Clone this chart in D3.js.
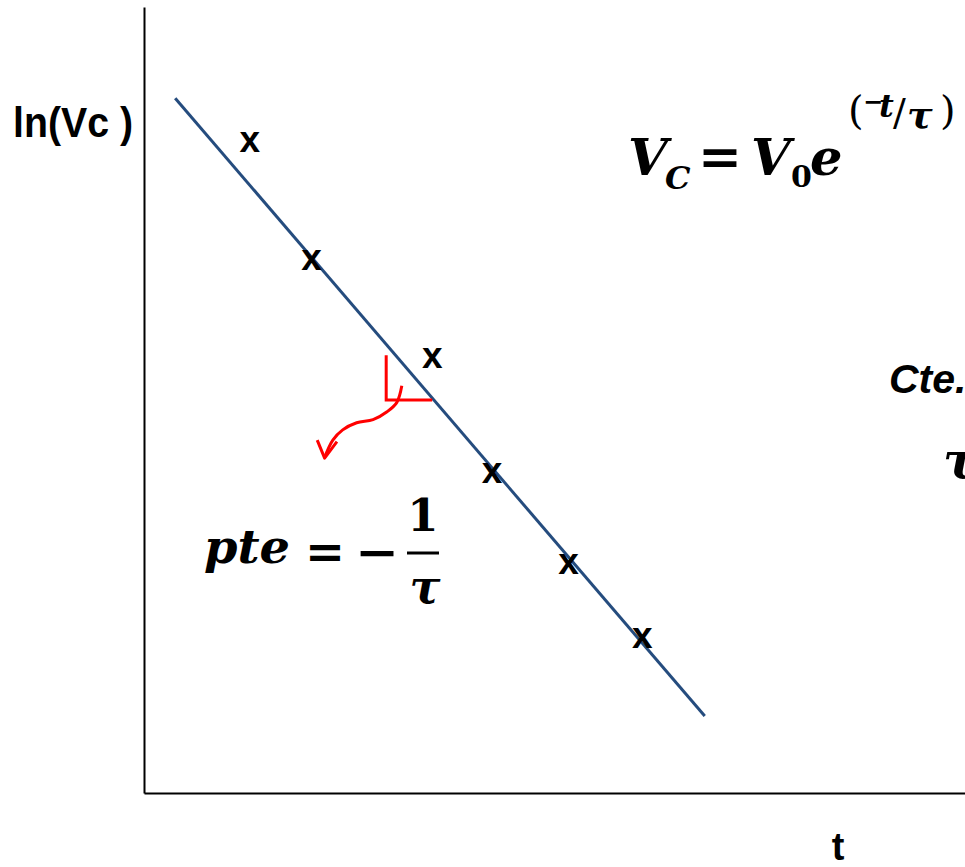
<!DOCTYPE html>
<html>
<head>
<meta charset="utf-8">
<script src="https://d3js.org/d3.v7.min.js"></script>
<style>
    body { margin: 0; background: #fff; }
</style>
</head>
<body>
<svg width="965" height="867"></svg>

<script>
    var width = 965;
    var height = 867;

    // axis extents (arbitrary units, no ticks in the picture)
    const tDomain = [0, 10];
    const lnDomain = [0, 10];

    // measured points (the "x" marks)
    const measT = [1.29, 2.04, 3.51, 4.24, 5.17, 6.07];
    const measLnV = [8.28, 6.78, 5.53, 4.06, 2.91, 1.97];

    // fitted straight line
    const fitT = [0.38, 6.83];
    const fitLnV = [8.84, 0.98];

    // red slope mark (right angle + curly arrow)
    const slopeMarkT = [2.95, 2.95, 3.51];
    const slopeMarkLn = [5.57, 5.0, 5.0];
    const arrowCurveT = [3.14, 3.08, 2.96, 2.79, 2.59, 2.42, 2.30, 2.20];
    const arrowCurveLn = [5.18, 4.97, 4.85, 4.75, 4.71, 4.62, 4.49, 4.27];
    const arrowHeadT = [2.11, 2.20, 2.35];
    const arrowHeadLn = [4.49, 4.26, 4.47];

    const x = d3.scaleLinear().domain(tDomain).range([144, 965]);
    const y = d3.scaleLinear().domain(lnDomain).range([793, 7]);

    const svg = d3.select('svg')
        .attr('viewBox', [0, 0, width, height]);

    // axes: only the domain lines
    svg.append('g')
        .attr('transform', 'translate(0,793)')
        .call(d3.axisBottom(x).ticks(0).tickSizeOuter(0))
        .call(g => g.select('.domain').attr('stroke', '#000').attr('stroke-width', 2));
    svg.append('g')
        .attr('transform', 'translate(144,0)')
        .call(d3.axisLeft(y).ticks(0).tickSizeOuter(0))
        .call(g => g.select('.domain').attr('stroke', '#000').attr('stroke-width', 2));

    const line = d3.line().x(d => x(d[0])).y(d => y(d[1]));

    // fitted line
    svg.append('path')
        .attr('d', line(d3.zip(fitT, fitLnV)))
        .attr('fill', 'none')
        .attr('stroke', '#254C7E')
        .attr('stroke-width', 3);

    // red annotation
    svg.append('path')
        .attr('d', line(d3.zip(slopeMarkT, slopeMarkLn)))
        .attr('fill', 'none')
        .attr('stroke', '#ff0000')
        .attr('stroke-width', 3);
    svg.append('path')
        .attr('d', line.curve(d3.curveCatmullRom)(d3.zip(arrowCurveT, arrowCurveLn)))
        .attr('fill', 'none')
        .attr('stroke', '#ff0000')
        .attr('stroke-width', 3);
    line.curve(d3.curveLinear);
    svg.append('path')
        .attr('d', line(d3.zip(arrowHeadT, arrowHeadLn)))
        .attr('fill', 'none')
        .attr('stroke', '#ff0000')
        .attr('stroke-width', 3)
        .attr('stroke-linejoin', 'round');

    // "x" markers
    svg.append('g')
        .attr('font-family', 'Liberation Sans, Arial, sans-serif')
        .attr('font-weight', 'bold')
        .attr('font-size', 37)
        .attr('text-anchor', 'middle')
        .selectAll('text')
        .data(d3.zip(measT, measLnV))
        .join('text')
        .attr('x', d => x(d[0]))
        .attr('y', d => y(d[1]) + 9.5)
        .text('x');

    // axis labels
    svg.append('text')
        .attr('x', 13)
        .attr('y', 137)
        .attr('font-family', 'Liberation Sans, Arial, sans-serif')
        .attr('font-weight', 'bold')
        .attr('font-size', 43)
        .attr('textLength', 120)
        .attr('lengthAdjust', 'spacingAndGlyphs')
        .text('ln(Vc )');

    svg.append('text')
        .attr('x', 838)
        .attr('y', 860)
        .attr('text-anchor', 'middle')
        .attr('font-family', 'Liberation Sans, Arial, sans-serif')
        .attr('font-weight', 'bold')
        .attr('font-size', 38)
        .text('t');

    // math texts
    const math = svg.append('g')
        .attr('font-family', 'DejaVu Serif, serif')
        .attr('font-weight', 'bold')
        .attr('font-style', 'italic')
        .attr('fill', '#000');

    function put(txt, px, py, size, opts) {
        const t = math.append('text')
            .attr('x', px).attr('y', py)
            .attr('font-size', size)
            .text(txt);
        if (opts) {
            if (opts.upright) t.attr('font-style', 'normal');
            if (opts.normal) t.attr('font-weight', 'normal');
            if (opts.anchor) t.attr('text-anchor', opts.anchor);
            if (opts.len) t.attr('textLength', opts.len).attr('lengthAdjust', 'spacingAndGlyphs');
        }
        return t;
    }

    // V_C = V_0 e^(-t/tau)
    put('V', 628, 175, 51);
    put('C', 665, 189, 32);
    put('=', 698, 175, 52, {upright: true, len: 44});
    put('V', 751, 175, 51);
    put('0', 791, 187, 30, {upright: true});
    put('e', 810, 175, 51);
    put('(', 848, 124, 40, {upright: true, normal: true});
    put('\u2212', 863, 110, 24, {upright: true});
    put('t', 879, 117, 32);
    put('/', 893, 125, 38, {upright: true, normal: true});
    put('\u03C4', 907, 128, 38);
    put(')', 940, 124, 40, {upright: true, normal: true});

    // pte = -1/tau
    put('pte', 204, 563, 46, {len: 86});
    put('=', 305, 568, 46, {upright: true, len: 40});
    put('\u2212', 355, 568, 46, {upright: true, len: 44});
    put('1', 423, 531, 45, {upright: true, anchor: 'middle'});
    math.append('line')
        .attr('x1', 407).attr('x2', 439)
        .attr('y1', 553).attr('y2', 553)
        .attr('stroke', '#000').attr('stroke-width', 3);
    put('\u03C4', 425, 603, 46, {anchor: 'middle'});

    // right side texts (cut by the frame)
    svg.append('text')
        .attr('x', 889)
        .attr('y', 393)
        .attr('font-family', 'Liberation Sans, Arial, sans-serif')
        .attr('font-weight', 'bold')
        .attr('font-style', 'italic')
        .attr('font-size', 41)
        .text('Cte.');
    put('\u03C4', 943, 478, 50);
</script>
</body>
</html>
